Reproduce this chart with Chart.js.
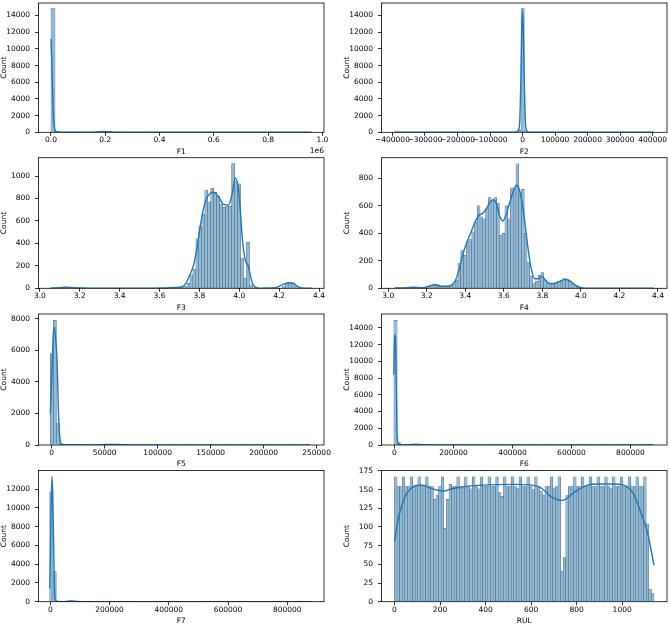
<!DOCTYPE html>
<html><head><meta charset="utf-8">
<script src="https://cdn.jsdelivr.net/npm/chart.js@4.4.1/dist/chart.umd.min.js"></script>
<style>
html,body{margin:0;padding:0;background:#fff;}
#fig{position:relative;width:669px;height:625px;overflow:hidden;background:#fff;}
canvas{position:absolute;}
</style></head><body><div id="fig"></div>
<script>
// ---------------- DATA ----------------
// Histogram bin ranges (first edge, last edge) and counts per bin
const f1BinLo = 0, f1BinHi = 960000;
const f1Counts = [14900,130,15,8,4,2,1,1,0,0, 0,2,60,80,25,3,1,0,0,0, 0,0,0,0,0,1,0,0,0,0, 0,0,0,0,0,0,0,0,1,0, 0,0,0,0,0,0,0,0,0,0, 0,0,0,0,0,1,0,0,0,0, 0,0,0,1];
const f1KdeX = [0,3000,6000,9000,12000,15000,20000,30000,60000,150000,175000,195000,215000,240000,300000,600000,960000];
const f1KdeY = [11200,8600,4800,2000,700,250,60,8,2,5,60,100,60,10,2,1,0];

const f2BinLo = -393800, f2BinHi = 404300;
const f2Counts = [2,0,0,1,0,0,0,1,0,0, 0,0,1,0,0,0,0,1,0,0, 0,1,0,0,0,1,0,0,1,0, 1,1,2,2,3,4,6,15,250,14900, 180,15,6,4,3,2,2,1,1,1, 0,1,0,1,0,4,15,10,3,1, 0,0,1,0,0,1,0,0,0,1, 0,0,1,0,0,0,0,1,0,1];
const f2KdeX = [-393800,-100000,-30000,-18000,-12000,-8000,-5000,-2500,0,2500,5000,8000,12000,18000,30000,160000,175000,190000,404300];
const f2KdeY = [0,1,3,30,300,1800,6500,12000,14600,12200,6800,1800,250,20,3,10,15,8,0];

const f3BinLo = 3.05, f3BinHi = 4.365;
const f3Counts = [3,2,4,6,9,10,8,5,3,2, 1,1,0,1,0,1,0,0,1,0, 1,0,0,1,0,0,1,0,0,1, 0,1,0,0,1,0,1,1,2,2, 3,6,8,6,12,15,45,120,170,440, 550,660,875,770,890,855,820,750,720,730, 730,1110,950,930,270,90,410,30,5,1, 0,1,0,0,1,0,0,2,15,45, 50,48,20,5,1,0,0,1];
const f3KdeX = [3.05,3.1,3.13,3.17,3.25,3.5,3.62,3.68,3.71,3.73,3.75,3.771,3.79,3.804,3.829,3.854,3.871,3.896,3.921,3.946,3.963,3.98,3.995,4.005,4.015,4.03,4.045,4.055,4.065,4.08,4.1,4.18,4.22,4.25,4.27,4.3,4.33,4.365];
const f3KdeY = [1,6,10,5,1,1,3,8,12,40,110,208,380,550,770,845,855,816,748,742,830,980,900,700,450,250,200,120,50,10,2,5,35,50,45,10,1,0];

const f4BinLo = 3.032, f4BinHi = 4.38;
const f4Counts = [2,3,3,4,5,6,7,6,5,5, 6,8,12,18,27,22,14,12,14,16, 20,30,60,180,275,240,340,355,410,480, 600,520,505,580,660,640,660,620,385,400, 600,505,730,725,905,690,720,400,190,90, 35,50,95,115,60,35,30,30,40,50, 60,70,65,50,35,20,8,3,1,0, 1,0,0,0,0,1,0,0,0,0, 0,0,1,0,0,0,0,0,0,1, 0,0,0,1];
const f4KdeX = [3.032,3.1,3.13,3.18,3.22,3.24,3.27,3.3,3.33,3.35,3.37,3.39,3.41,3.43,3.45,3.47,3.49,3.51,3.53,3.545,3.56,3.58,3.595,3.61,3.63,3.65,3.665,3.68,3.7,3.72,3.74,3.76,3.78,3.795,3.81,3.83,3.86,3.89,3.92,3.94,3.97,4.0,4.05,4.38];
const f4KdeY = [2,5,8,5,20,28,18,15,25,60,150,260,340,410,480,530,545,580,630,645,620,520,490,530,620,710,750,720,580,350,160,70,70,85,70,40,35,50,65,55,25,5,1,0];

const f5BinLo = -1300, f5BinHi = 243800;
const f5Counts = [5800,7900,1350,60,15,5,3,1,1,0, 1,0,1,0,0,1,0,15,25,25, 20,10,3,1,0,1,0,0,1,0, 0,1,0,0,0,1,0,0,0,0, 1,0,0,0,0,0,1,0,0,0, 0,0,1,0,0,0,0,0,1,0, 0,0,0,0,1,0,0,0,0,0, 0,1,0,0,0,0,0,0,0,0, 1,0,0,0,0,1];
const f5KdeX = [-1300,0,1000,1860,2600,3440,4700,5500,6270,7200,8160,9500,12000,20000,40000,52000,58000,66000,80000,120000,243800];
const f5KdeY = [2000,4200,6300,7450,7400,6880,5800,4200,2200,800,210,60,10,3,5,30,40,20,3,1,0];

const f6BinLo = -2000, f6BinHi = 878000;
const f6Counts = [14900,300,15,5,2,40,80,60,10,2, 1,0,1,0,0,1,0,0,1,0, 0,1,0,0,0,1,0,0,0,1, 0,0,0,1,0,0,0,1,0,0, 0,0,1,0,0,0,0,1,0,0, 0,0,0,1,0,0,0,0,1,0, 0,0,0,0,1,0,0,0,0,0, 1,0,0,0,0,0,1,0,0,1];
const f6KdeX = [-2000,0,2500,4500,6700,8900,12000,18000,30000,55000,70000,85000,100000,130000,878000];
const f6KdeY = [8400,13200,13000,11000,6200,1000,200,40,5,40,110,80,10,2,0];

const f7BinLo = -2000, f7BinHi = 878000;
const f7Counts = [11700,3200,40,8,3,40,70,45,8,2, 1,0,1,0,0,1,0,0,1,0, 0,1,0,0,0,1,0,0,0,1, 0,0,0,1,0,0,0,1,0,0, 0,0,1,0,0,0,0,1,0,0, 0,0,0,1,0,0,0,0,1,0, 0,0,0,0,1,0,0,0,0,0, 1,0,0,0,0,0,1,0,0,1];
const f7KdeX = [-2000,0,2500,5400,8000,11300,14700,18000,25000,40000,60000,72000,90000,110000,878000];
const f7KdeY = [1400,4500,10000,13300,11500,5700,700,150,20,5,60,90,40,5,0];

const rulBinLo = 0, rulBinHi = 1140;
const rulCounts = [167,154,154,167,154,154,167,154,154,167, 154,154,167,154,154,137,143,154,167,98, 137,157,154,154,167,152,154,167,154,151, 167,154,151,167,154,154,167,154,154,167, 146,141,167,154,154,167,154,152,167,154, 154,167,154,150,167,154,148,143,154,154, 167,152,154,167,41,59,142,154,154,167, 154,154,167,154,154,167,154,154,167,154, 154,167,154,152,167,154,154,167,154,154, 167,154,154,167,154,154,167,104,17,11];
const rulKdeX = [0,14.6,29,51,73,102,124,161,190,219,248,292,350,438,526,584,613,642,686,737,788,845,900,960,1007,1051,1080,1110,1140];
const rulKdeY = [80,108,125.6,143.6,151.6,155.7,155.7,151.6,149,148,150.8,153.5,155.3,156.6,157,156.6,155.3,152.6,141,135.5,146,155.7,157.5,157.5,156,143.6,121,94,49];

// Tick labels
const ticksF1X = [0,200000,400000,600000,800000,1000000];
const ticksF2X = [-400000,-300000,-200000,-100000,0,100000,200000,300000,400000];
const ticksF34X = [3.0,3.2,3.4,3.6,3.8,4.0,4.2,4.4];
const ticksF5X = [0,50000,100000,150000,200000,250000];
const ticksF67X = [0,200000,400000,600000,800000];
const ticksRulX = [0,200,400,600,800,1000];
const ticksY14k = [0,2000,4000,6000,8000,10000,12000,14000];
const ticksY12k = [0,2000,4000,6000,8000,10000,12000];
const ticksY8k = [0,2000,4000,6000,8000];
const ticksYF3 = [0,200,400,600,800,1000];
const ticksYF4 = [0,200,400,600,800];
const ticksYRul = [0,25,50,75,100,125,150,175];

// ---------------- LAYOUT ----------------
const COLS = [{left:0, width:334, plotLeft:38.5, plotRight:324, titlePad:0},
              {left:334, width:335, plotLeft:381.5, plotRight:667, titlePad:9}];
const ROWS = [{top:3, bottom:132.3},{top:157.7, bottom:288.3},{top:314, bottom:445},{top:470.5, bottom:601.7}];

const minus = v => String(v).replace('-', '\u2212');
const PANELS = [
  {label:'F1', row:0, col:0, lo:f1BinLo, hi:f1BinHi, counts:f1Counts, kx:f1KdeX, ky:f1KdeY, xmin:-46000, xmax:1006000, xt:ticksF1X, xf:v=>(v/1e6).toFixed(1), ymax:15500, yt:ticksY14k, offsetText:'1e6'},
  {label:'F2', row:0, col:1, lo:f2BinLo, hi:f2BinHi, counts:f2Counts, kx:f2KdeX, ky:f2KdeY, xmin:-433700, xmax:444200, xt:ticksF2X, xf:minus, ymax:15500, yt:ticksY14k},
  {label:'F3', row:1, col:0, lo:f3BinLo, hi:f3BinHi, counts:f3Counts, kx:f3KdeX, ky:f3KdeY, xmin:2.993, xmax:4.425, xt:ticksF34X, xf:v=>v.toFixed(1), ymax:1163, yt:ticksYF3},
  {label:'F4', row:1, col:1, lo:f4BinLo, hi:f4BinHi, counts:f4Counts, kx:f4KdeX, ky:f4KdeY, xmin:2.965, xmax:4.447, xt:ticksF34X, xf:v=>v.toFixed(1), ymax:950, yt:ticksYF4},
  {label:'F5', row:2, col:0, lo:f5BinLo, hi:f5BinHi, counts:f5Counts, kx:f5KdeX, ky:f5KdeY, xmin:-12500, xmax:257000, xt:ticksF5X, xf:minus, ymax:8300, yt:ticksY8k},
  {label:'F6', row:2, col:1, lo:f6BinLo, hi:f6BinHi, counts:f6Counts, kx:f6KdeX, ky:f6KdeY, xmin:-44000, xmax:924000, xt:ticksF67X, xf:minus, ymax:15660, yt:ticksY14k},
  {label:'F7', row:3, col:0, lo:f7BinLo, hi:f7BinHi, counts:f7Counts, kx:f7KdeX, ky:f7KdeY, xmin:-40000, xmax:924000, xt:ticksF67X, xf:minus, ymax:13970, yt:ticksY12k},
  {label:'RUL', row:3, col:1, lo:rulBinLo, hi:rulBinHi, counts:rulCounts, kx:rulKdeX, ky:rulKdeY, xmin:-57, xmax:1197, xt:ticksRulX, xf:minus, ymax:175.5, yt:ticksYRul}
];

const FONT = 7.5;
Chart.defaults.font.family = '"DejaVu Sans", sans-serif';
Chart.defaults.font.size = FONT;
Chart.defaults.color = '#000';

const framePlugin = {
  id: 'frame',
  afterDraw(chart, args, opts) {
    const {ctx, chartArea: a} = chart;
    ctx.save();
    ctx.strokeStyle = '#000';
    ctx.lineWidth = 0.8;
    ctx.strokeRect(a.left, a.top, a.right - a.left, a.bottom - a.top);
    if (opts.offsetText) {
      ctx.fillStyle = '#000';
      ctx.font = FONT + 'px "DejaVu Sans"';
      ctx.textAlign = 'right';
      ctx.textBaseline = 'middle';
      ctx.fillText(opts.offsetText, a.right, a.bottom + 18.4);
    }
    ctx.restore();
  }
};

const fig = document.getElementById('fig');
PANELS.forEach(p => {
  const col = COLS[p.col], row = ROWS[p.row];
  const cTop = Math.floor(row.top) - 3;
  const cH = Math.ceil(row.bottom) + 24 - cTop;
  const padTop = row.top - cTop;
  const xH = cH - (row.bottom - cTop);
  const yW = col.plotLeft - col.left;
  const padR = col.left + col.width - col.plotRight;
  const cv = document.createElement('canvas');
  cv.width = col.width; cv.height = cH;
  cv.style.left = col.left + 'px'; cv.style.top = cTop + 'px';
  cv.style.width = col.width + 'px'; cv.style.height = cH + 'px';
  fig.appendChild(cv);

  const n = p.counts.length, w = (p.hi - p.lo) / n;
  const bars = p.counts.map((c, i) => ({x: p.lo + (i + 0.5) * w, y: c}));
  const kde = p.kx.map((x, i) => ({x: x, y: p.ky[i]}));

  new Chart(cv, {
    type: 'bar',
    data: {
      datasets: [
        {type: 'line', data: kde, borderColor: '#1f77b4', borderWidth: 1.4, pointRadius: 0,
         cubicInterpolationMode: 'monotone', fill: false, order: 0},
        {type: 'bar', data: bars, backgroundColor: '#8fbbd9', borderColor: '#4d5e6e',
         borderWidth: 0.5, barPercentage: 1, categoryPercentage: 1, order: 1}
      ]
    },
    options: {
      responsive: false, animation: false, devicePixelRatio: 1,
      layout: {padding: {left: 0, right: padR, top: padTop, bottom: 0}},
      plugins: {legend: {display: false}, tooltip: {enabled: false}, frame: {offsetText: p.offsetText}},
      scales: {
        x: {
          type: 'linear', min: p.xmin, max: p.xmax, offset: false,
          afterBuildTicks: s => { s.ticks = p.xt.map(v => ({value: v})); },
          afterFit: s => { s.height = xH; s.paddingLeft = 0; s.paddingRight = 0; },
          grid: {display: true, drawOnChartArea: false, drawTicks: true, tickLength: 3.5, color: '#000', tickColor: '#000', lineWidth: 0.8, offset: false},
          border: {display: false},
          ticks: {padding: 0, autoSkip: false, maxRotation: 0, minRotation: 0, color: '#000', font: {size: FONT}, callback: v => p.xf(v)},
          title: {display: true, text: p.label, color: '#000', font: {size: FONT}, padding: {top: 0, bottom: xH - 23.8}}
        },
        y: {
          type: 'linear', min: 0, max: p.ymax,
          afterBuildTicks: s => { s.ticks = p.yt.map(v => ({value: v})); },
          afterFit: s => { s.width = yW; s.paddingTop = 0; s.paddingBottom = 0; },
          grid: {display: true, drawOnChartArea: false, drawTicks: true, tickLength: 3.5, color: '#000', tickColor: '#000', lineWidth: 0.8, offset: false},
          border: {display: false},
          ticks: {padding: 5, autoSkip: false, color: '#000', font: {size: FONT}, callback: v => String(v)},
          title: {display: true, text: 'Count', color: '#000', font: {size: FONT}, padding: {top: col.titlePad, bottom: 0}}
        }
      }
    },
    plugins: [framePlugin]
  });
});
</script>
</body></html>
